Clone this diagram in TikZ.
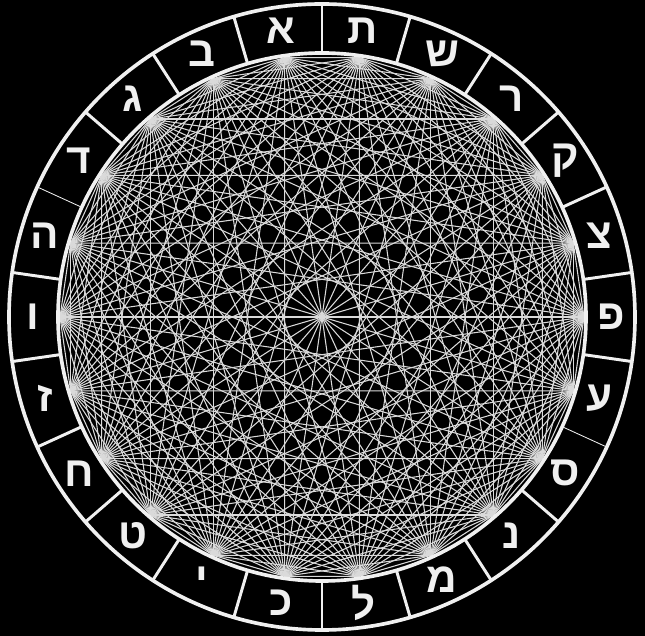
\documentclass[tikz,border=0pt]{standalone}
\usepackage{fontspec}
\newfontfamily\hebfont[Script=Hebrew]{Liberation Sans}
\definecolor{ringline}{HTML}{F0F0F0}
\definecolor{chordline}{HTML}{DADADA}
\tikzset{
  ring/.style={draw=ringline, line width=2.6pt},
  divider/.style={draw=ringline, line width=2.1pt},
  thindivider/.style={draw=ringline, line width=0.6pt},
  chord/.style={draw=chordline, line width=0.75pt},
  letter/.style={text=ringline, font=\hebfont\bfseries\fontsize{30}{30}\selectfont, inner sep=0pt},
}

\begin{document}
\begin{tikzpicture}[x=0.025cm, y=0.025cm]
    \fill[black] (-322,-319) rectangle (323,317);
    \useasboundingbox (-322,-319) rectangle (323,317);
    % gate points, one under each letter
    \foreach \i in {0,...,21}
      \coordinate (p\i) at ({98.1818+\i*360/22}:262);
    % every pair joined
    \foreach \i in {0,...,20} {
      \pgfmathtruncatemacro{\jfirst}{\i+1}
      \foreach \j in {\jfirst,...,21}
        \draw[chord] (p\i) -- (p\j);
    }
    \draw[ring] (0,0) circle[radius=264];
    \draw[ring] (0,0) circle[radius=313];
    \foreach \k in {0,...,21} {
      \coordinate (a\k) at ({90+\k*360/22}:264);
      \coordinate (b\k) at ({90+\k*360/22}:313);
    }
    \foreach \k in {0,1,2,3,5,6,7,8,9,10,11,12,13,14,16,17,18,19,20,21}
      \draw[divider] (a\k) -- (b\k);
    \draw[thindivider] (a4) -- (b4);
    \draw[thindivider] (a15) -- (b15);
    % letters
    \foreach \ch [count=\n from 0] in {א,ב,ג,ד,ה,ו,ז,ח,ט,י,כ,ל,מ,נ,ס,ע,פ,צ,ק,ר,ש,ת}
      \node[letter] (l\n) at ({98.1818+\n*360/22}:289) {\ch};
\end{tikzpicture}
\end{document}
